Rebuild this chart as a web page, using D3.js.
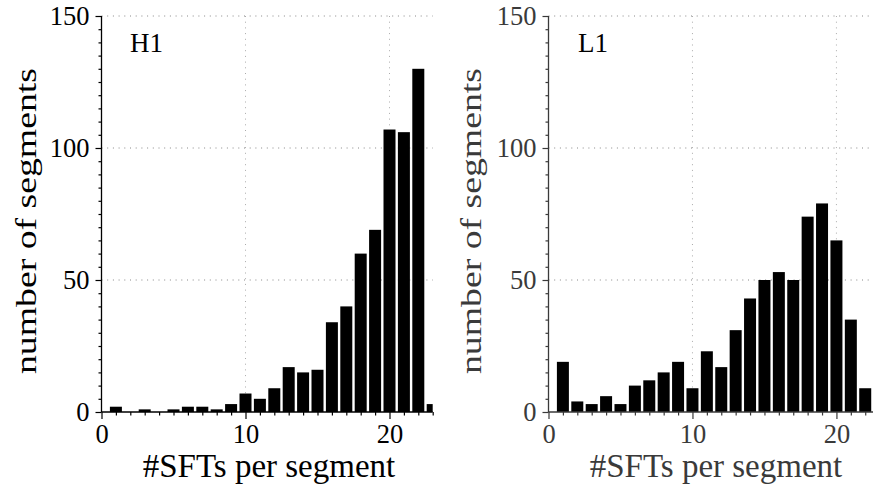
<!DOCTYPE html>
<html><head><meta charset="utf-8">
<script src="https://cdn.jsdelivr.net/npm/d3@7"></script>
<style>body{margin:0;background:#fff}svg{display:block}</style>
</head><body>
<svg id="c" width="873" height="489"></svg>
<script>
const h1Bins = [1,2,3,4,5,6,7,8,9,10,11,12,13,14,15,16,17,18,19,20,21,22,23];
const h1Counts = [2,0,1,0,1,2,2,1,3,7,5,9,17,15,16,34,40,60,69,107,106,130,3];
const l1Bins = [1,2,3,4,5,6,7,8,9,10,11,12,13,14,15,16,17,18,19,20,21,22];
const l1Counts = [19,4,3,6,3,10,12,15,19,9,23,17,31,43,50,53,50,74,79,65,35,9];
const xTicks = [0,10,20];
const yTicks = [0,50,100,150];
const panelLabels = ["H1","L1"];
const xTitle = "#SFTs per segment";
const yTitle = "number of segments";

const svg = d3.select("#c");
const FONT = "'Liberation Serif', 'DejaVu Serif', serif";

const panels = [
  {bins:h1Bins, counts:h1Counts, label:panelLabels[0], x0:101.5, x1:432.7, xmax:23, col:"#000", ytx:36, xtc:269, lx:130},
  {bins:l1Bins, counts:l1Counts, label:panelLabels[1], x0:548.5, x1:873, xmax:22.54, col:"#3a3a3a", ytx:481, xtc:716, lx:578}
];

panels.forEach((p,i)=>{
  const g = svg.append("g");
  const x = d3.scaleLinear().domain([0,p.xmax]).range([p.x0,p.x1]);
  const y = d3.scaleLinear().domain([0,150]).range([412,16]);
  const clipId = "clip"+i;
  svg.append("clipPath").attr("id",clipId).append("rect")
    .attr("x",p.x0).attr("y",0).attr("width",p.x1-p.x0).attr("height",412);

  // grid
  const grid = g.append("g");
  grid.selectAll("line.h").data(yTicks.filter(d=>d>0)).join("line")
    .attr("x1",p.x0).attr("x2",p.x1).attr("y1",d=>y(d)).attr("y2",d=>y(d))
    .attr("stroke","#888").attr("stroke-width",1).attr("stroke-dasharray","1,4.7");
  grid.selectAll("line.v").data(xTicks.filter(d=>d>0)).join("line")
    .attr("x1",d=>x(d)).attr("x2",d=>x(d)).attr("y1",y(150)).attr("y2",y(0))
    .attr("stroke","#aaa").attr("stroke-width",1).attr("stroke-dasharray","1,4.7");

  // bars
  const bw = x(1)-x(0);
  g.append("g").attr("clip-path",`url(#${clipId})`)
    .selectAll("rect").data(p.bins.map((b,j)=>({b,c:p.counts[j]}))).join("rect")
    .attr("x",d=>x(d.b-0.5)+1.2).attr("width",bw-2.4)
    .attr("y",d=>y(d.c)).attr("height",d=>y(0)-y(d.c))
    .attr("fill","#000");

  // y axis
  const yAxis = d3.axisLeft(y).tickValues(yTicks).tickSize(6).tickPadding(6).tickFormat(d3.format("d"));
  const ya = g.append("g").attr("transform",`translate(${p.x0},0)`).call(yAxis);
  const yMinor = d3.axisLeft(y).tickValues(d3.range(0,151,5).filter(v=>v%50)).tickSize(3).tickFormat("");
  const ym = g.append("g").attr("transform",`translate(${p.x0},0)`).call(yMinor);
  ym.select(".domain").remove();

  // x axis
  const xAxis = d3.axisBottom(x).tickValues(xTicks).tickSize(7).tickPadding(5).tickFormat(d3.format("d"));
  const xa = g.append("g").attr("transform",`translate(0,${y(0)})`).call(xAxis);
  const xMinor = d3.axisBottom(x).tickValues(d3.range(0,Math.floor(p.xmax)+1).filter(v=>v%10)).tickSize(3.5).tickFormat("");
  const xm = g.append("g").attr("transform",`translate(0,${y(0)})`).call(xMinor);
  xm.select(".domain").remove();

  [ya,ym,xa,xm].forEach(a=>{
    a.selectAll(".domain").attr("stroke",p.col).attr("stroke-width",1.3);
    a.selectAll(".tick line").attr("stroke",p.col).attr("stroke-width",1.2);
    a.selectAll("text").attr("fill",p.col).style("font-family",FONT).style("font-size","26.5px");
  });
  ya.select(".domain").attr("d",`M-0,${y(150)}V${y(0)}`);
  xa.select(".domain").attr("d",`M${p.x0},0H${p.x1}`);

  // titles
  g.append("text").attr("x",p.xtc).attr("y",477).attr("text-anchor","middle")
    .attr("fill",p.col).style("font-family",FONT).style("font-size","33px").text(xTitle);
  g.append("text").attr("transform",`translate(${p.ytx},221) rotate(-90)`).attr("text-anchor","middle")
    .attr("textLength",306).attr("lengthAdjust","spacingAndGlyphs")
    .attr("fill",p.col).style("font-family",FONT).style("font-size","30px").text(yTitle);
  g.append("text").attr("x",p.lx).attr("y",52)
    .attr("fill","#000").style("font-family",FONT).style("font-size","27px").text(p.label);
});
</script>
</body></html>
